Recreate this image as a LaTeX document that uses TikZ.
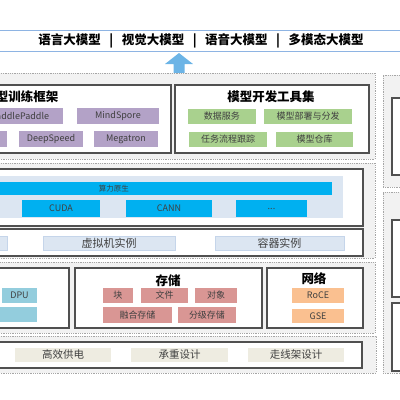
\documentclass[tikz,border=0pt]{standalone}
\usepackage{fontspec}
\setmainfont{Noto Sans CJK SC}
\definecolor{topline}{HTML}{8EB4E3}
\definecolor{arrowc}{HTML}{6CB4E6}
\definecolor{dotc}{HTML}{A6A6A6}
\definecolor{layerbg}{HTML}{F2F2F2}
\definecolor{panelc}{HTML}{505050}
\definecolor{purplec}{HTML}{B3A2C7}
\definecolor{greenc}{HTML}{A9D18E}
\definecolor{brightblue}{HTML}{00B0F0}
\definecolor{paleblue}{HTML}{DCE6F2}
\definecolor{paleblueb}{HTML}{C5D5EA}
\definecolor{tealc}{HTML}{93CDDD}
\definecolor{pinkc}{HTML}{D99694}
\definecolor{orangec}{HTML}{FAC090}
\definecolor{beigec}{HTML}{EEECE1}
\definecolor{txt}{HTML}{404040}
\tikzset{
  sized/.style={inner sep=0pt, outer sep=0pt},
  layer/.style={sized, draw=dotc, densely dotted, fill=layerbg, line width=0.8pt},
  panel/.style={sized, draw=panelc, line width=1.2pt, fill=white},
  chip/.style={sized, text=txt, font=\fontsize{9}{10}\selectfont},
  purplebox/.style={chip, fill=purplec},
  greenbox/.style={chip, fill=greenc},
  bluebox/.style={chip, fill=brightblue},
  virtbox/.style={chip, fill=paleblue, draw=paleblueb, line width=0.5pt, font=\fontsize{11}{12}\selectfont},
  tealbox/.style={chip, fill=tealc},
  pinkbox/.style={chip, fill=pinkc},
  orangebox/.style={chip, fill=orangec},
  beigebox/.style={chip, fill=beigec, font=\fontsize{10.5}{12}\selectfont},
  inpanel/.style={sized, fill=paleblue},
  title/.style={font=\bfseries\fontsize{12.5}{14}\selectfont, text=black, inner sep=0pt},
  topline/.style={draw=topline, line width=1pt},
}
\newcommand\Bx[7]{\node[#6, minimum width={(#4)-(#2)}, minimum height={(#5)-(#3)}] (#1) at ({((#2)+(#4))/2},{((#3)+(#5))/2}) {#7};}
\begin{document}
\begin{tikzpicture}[x=1pt,y=-1pt]
\useasboundingbox (0,0) rectangle (400,400);
\clip (0,0) rectangle (400,400);
% top band
\coordinate (t1a) at (-5,30); \coordinate (t1b) at (405,30);
\coordinate (t2a) at (-5,51); \coordinate (t2b) at (405,51);
\draw[topline] (t1a) -- (t1b);
\draw[topline] (t2a) -- (t2b);
\node[title] (models) at (201,41) {语言大模型\hspace{8.5pt}|\hspace{8.5pt}视觉大模型\hspace{8.5pt}|\hspace{8.5pt}语音大模型\hspace{8.5pt}|\hspace{8.5pt}多模态大模型};
% arrow
\fill[arrowc] (173.5,73) -- (173.5,64) -- (165,64) -- (179,53) -- (193,64) -- (184.5,64) -- (184.5,73) -- cycle;
% layers
\Bx{L1}{-10}{73}{375}{159}{layer}{}
\Bx{L2}{-10}{163}{375}{258}{layer}{}
\Bx{L3}{-10}{262}{375}{333}{layer}{}
\Bx{L4}{-10}{336}{376}{373}{layer}{}
\Bx{R1}{383}{75}{420}{187}{layer}{}
\Bx{R2}{383}{192}{420}{373}{layer}{}
% right column panels
\Bx{RP1}{392}{98}{430}{175}{panel}{}
\Bx{RP2}{392}{220}{430}{297}{panel}{}
\Bx{RP3}{392}{303}{430}{371}{panel}{}
% layer 1
\Bx{P1}{-129}{85}{171}{153}{panel}{}
\node[title] (P1t) at (21,97) {模型训练框架};
\Bx{pp}{-23}{108}{63}{124}{purplebox}{PaddlePaddle}
\Bx{ms}{77}{108}{159}{124}{purplebox}{MindSpore}
\Bx{px}{-57}{131}{7}{147}{purplebox}{}
\Bx{ds}{19}{131}{83}{147}{purplebox}{DeepSpeed}
\Bx{mg}{94}{131}{158}{147}{purplebox}{Megatron}
\Bx{P2}{175}{85}{369}{153}{panel}{}
\node[title] (P2t) at (271,97) {模型开发工具集};
\Bx{g1}{188}{109}{256}{124}{greenbox}{数据服务}
\Bx{g2}{264}{109}{352}{124}{greenbox}{模型部署与分发}
\Bx{g3}{189}{132}{267}{147}{greenbox}{任务流程跟踪}
\Bx{g4}{276}{132}{353}{147}{greenbox}{模型仓库}
% layer 2
\Bx{P3}{-60}{169}{363}{226}{panel}{}
\Bx{ip}{-60}{176}{343}{218}{inpanel}{}
\Bx{sl}{-104}{182}{332}{195}{bluebox,font=\fontsize{7.5}{9}\selectfont}{算力原生}
\Bx{cuda}{22}{200}{100}{217}{bluebox}{CUDA}
\Bx{cann}{126}{200}{212}{217}{bluebox}{CANN}
\Bx{etc}{236}{200}{307}{217}{bluebox}{...}
\Bx{P4}{-60}{229}{363}{256}{panel}{}
\Bx{v0}{-60}{236}{7}{250}{virtbox}{}
\Bx{v1}{43}{236}{175}{250}{virtbox}{虚拟机实例}
\Bx{v2}{215}{236}{344}{250}{virtbox}{容器实例}
% layer 3
\Bx{P5}{-60}{268}{69}{328}{panel}{}
\Bx{dpu}{2}{288}{37}{303}{tealbox}{DPU}
\Bx{tx}{-50}{307}{37}{322}{tealbox}{}
\Bx{P6}{75}{268}{262}{328}{panel}{}
\node[title] (P6t) at (168,281) {存储};
\Bx{s1}{103}{288}{133}{303}{pinkbox}{块}
\Bx{s2}{141}{288}{188}{303}{pinkbox}{文件}
\Bx{s3}{195}{288}{237}{303}{pinkbox}{对象}
\Bx{s4}{103}{307}{172}{323}{pinkbox}{融合存储}
\Bx{s5}{178}{307}{236}{323}{pinkbox}{分级存储}
\Bx{P7}{267}{268}{363}{328}{panel}{}
\node[title] (P7t) at (314,279) {网络};
\Bx{n1}{292}{288}{344}{303}{orangebox}{RoCE}
\Bx{n2}{292}{309}{344}{323}{orangebox}{GSE}
% layer 4
\Bx{P8}{-60}{342}{362}{368}{panel}{}
\Bx{b1}{15}{348}{111}{362}{beigebox}{高效供电}
\Bx{b2}{131}{348}{228}{362}{beigebox}{承重设计}
\Bx{b3}{248}{348}{344}{362}{beigebox}{走线架设计}
\end{tikzpicture}
\end{document}
